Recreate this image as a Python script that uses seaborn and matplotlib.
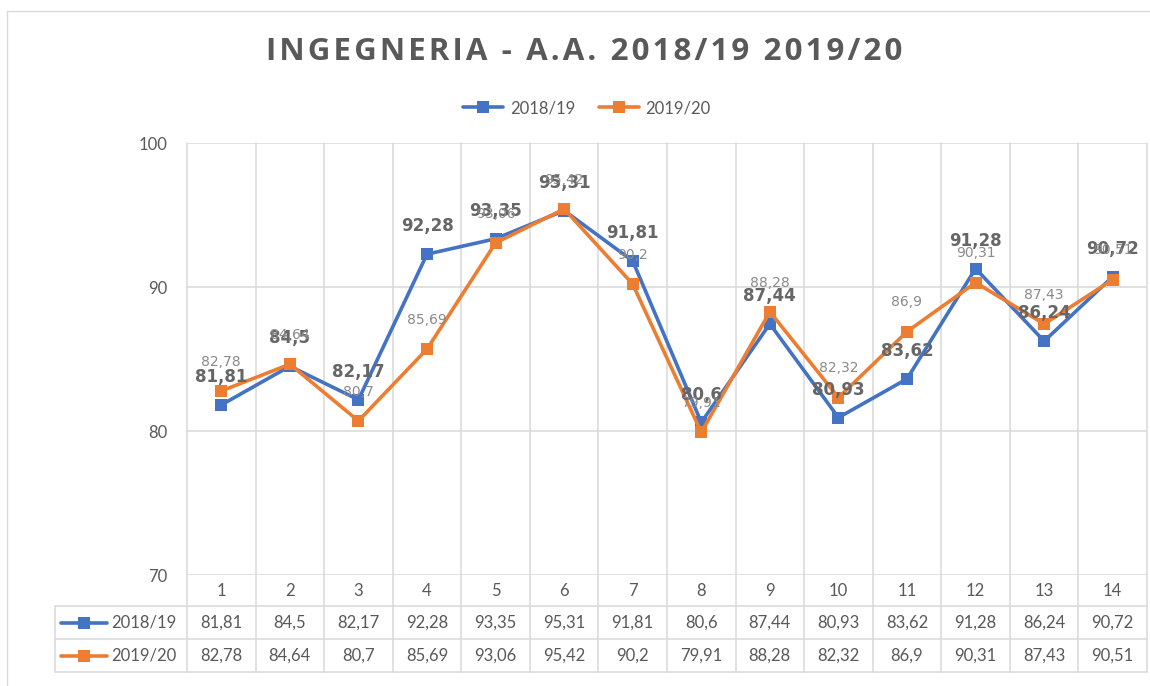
import matplotlib
matplotlib.use('Agg')
import matplotlib.pyplot as plt
import seaborn as sns
import pandas as pd
from matplotlib.lines import Line2D

# ---- data ----
categories = ['1', '2', '3', '4', '5', '6', '7', '8', '9', '10', '11', '12', '13', '14']
series_names = ['2018/19', '2019/20']
values_1819 = [81.81, 84.5, 82.17, 92.28, 93.35, 95.31, 91.81, 80.6, 87.44, 80.93, 83.62, 91.28, 86.24, 90.72]
values_1920 = [82.78, 84.64, 80.7, 85.69, 93.06, 95.42, 90.2, 79.91, 88.28, 82.32, 86.9, 90.31, 87.43, 90.51]
yticks = [70, 80, 90, 100]
title = 'INGEGNERIA - A.A. 2018/19 2019/20'

colors = {'2018/19': '#4472C4', '2019/20': '#ED7D31'}
GRID = '#d9d9d9'
TXT = '#595959'


def fmt(v):
    return ('%g' % v).replace('.', ',')


sns.set_style('white')
plt.rcParams['font.family'] = ['Lato', 'DejaVu Sans']

W, H = 1150, 686
fig = plt.figure(figsize=(W / 100, H / 100), dpi=100)
fig.patch.set_facecolor('white')

ax = fig.add_axes([187 / W, (H - 575) / H, 960 / W, 432 / H])

n = len(categories)
df = pd.DataFrame({
    'x': list(range(n)) * 2,
    'value': values_1819 + values_1920,
    'series': [series_names[0]] * n + [series_names[1]] * n,
})

sns.lineplot(data=df, x='x', y='value', hue='series', style='series',
             hue_order=series_names, palette=colors,
             markers={s: 's' for s in series_names}, dashes=False,
             markersize=8.5, linewidth=2.6, markeredgewidth=0,
             legend=False, ax=ax, zorder=3)

ax.set_xlim(-0.5, n - 0.5)
ax.set_ylim(yticks[0], yticks[-1])
ax.set_yticks(yticks)
ax.set_yticklabels([str(t) for t in yticks], fontsize=12, color=TXT)
ax.tick_params(axis='y', length=0, pad=14)
ax.set_xticks([])
ax.set_xlabel('')
ax.set_ylabel('')
for sp in ax.spines.values():
    sp.set_visible(False)
ax.yaxis.grid(True, color=GRID, lw=1.1, zorder=0)

# data labels
for i, (a, b) in enumerate(zip(values_1819, values_1920)):
    ax.annotate(fmt(a), (i, a), xytext=(0, 20), textcoords='offset points',
                ha='center', va='center', fontsize=12, fontweight='bold',
                color='#666666', zorder=5, family='DejaVu Sans')
    ax.annotate(fmt(b), (i, b), xytext=(0, 21), textcoords='offset points',
                ha='center', va='center', fontsize=10, color='#8a8a8a', zorder=5,
                family='DejaVu Sans')

# ---- data table below axes ----
xt = ax.get_xaxis_transform()
at = ax.transAxes
ph = 432.0
row_edges = [0, -31 / ph, -64 / ph, -97 / ph]
left_tab = -132 / 960.0

for k in range(n + 1):
    ax.add_line(Line2D([k - 0.5, k - 0.5], [row_edges[-1], 1], transform=xt,
                       color=GRID, lw=1.1, clip_on=False, zorder=0))
for r in row_edges[1:]:
    ax.add_line(Line2D([left_tab, 1], [r, r], transform=at,
                       color=GRID, lw=1.1, clip_on=False, zorder=0))
ax.add_line(Line2D([left_tab, left_tab], [row_edges[1], row_edges[-1]], transform=at,
                   color=GRID, lw=1.1, clip_on=False, zorder=0))

row_c = [(row_edges[j] + row_edges[j + 1]) / 2 for j in range(3)]
for i, c in enumerate(categories):
    ax.text(i, row_c[0], c, transform=xt, ha='center', va='center',
            fontsize=12, color=TXT)
for j, (name, vals) in enumerate(zip(series_names, [values_1819, values_1920])):
    y = row_c[j + 1]
    for i, v in enumerate(vals):
        ax.text(i, y, fmt(v), transform=xt, ha='center', va='center',
                fontsize=12, color=TXT)
    x0, x1 = -126 / 960.0, -80 / 960.0
    ax.add_line(Line2D([x0, x1], [y, y], transform=at, color=colors[name],
                       lw=2.6, clip_on=False))
    ax.add_line(Line2D([(x0 + x1) / 2], [y], transform=at, color=colors[name],
                       marker='s', markersize=8.5, mew=0, clip_on=False))
    ax.text(-76 / 960.0, y, name, transform=at, ha='left', va='center',
            fontsize=12, color=TXT)

# ---- top legend ----
handles = [Line2D([], [], color=colors[s], lw=2.6, marker='s', markersize=8.5, mew=0)
           for s in series_names]
fig.legend(handles, series_names, loc='center', ncol=2,
           bbox_to_anchor=(587 / W, (H - 108) / H), frameon=False,
           fontsize=12, labelcolor=TXT, handlelength=2.4, handletextpad=0.4,
           columnspacing=1.4)

# ---- title (letter-spaced) ----
spaced_title = '\u200a'.join(title)
fig.text(584 / W, (H - 52) / H, spaced_title, ha='center', va='center',
         fontsize=22.5, fontweight='bold', color=TXT,
         family=['Open Sans', 'DejaVu Sans'])

# ---- chart border ----
fig.add_artist(Line2D([7 / W, 1], [(H - 11) / H] * 2, transform=fig.transFigure,
                      color=GRID, lw=1))
fig.add_artist(Line2D([7 / W] * 2, [0, (H - 11) / H], transform=fig.transFigure,
                      color=GRID, lw=1))

fig.savefig('out.png', dpi=100)
